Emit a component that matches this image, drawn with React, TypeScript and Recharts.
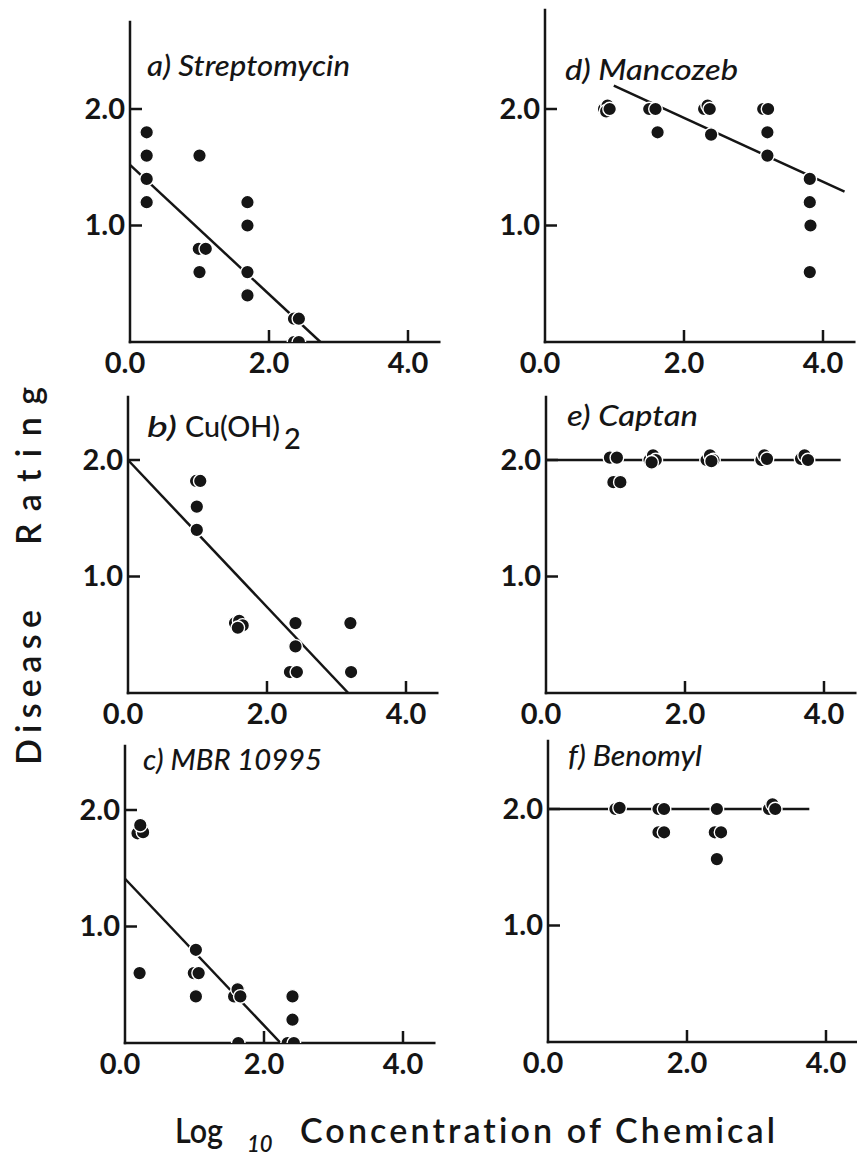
import React from "react";
import { ScatterChart, Scatter, XAxis, YAxis } from "recharts";

// log10 concentration vs disease rating, one array per chemical
const streptomycinPts = [
  [0.24, 1.8], [0.24, 1.6], [0.24, 1.4], [0.24, 1.2],
  [1.0, 1.6], [0.99, 0.8], [1.09, 0.8], [1.0, 0.6],
  [1.69, 1.2], [1.69, 1.0], [1.69, 0.6], [1.69, 0.4],
  [2.36, 0.2], [2.43, 0.2], [2.36, 0.0], [2.43, 0.0],
];
const streptomycinFit = [[0, 1.52], [2.74, 0]];

const cuOH2Pts = [
  [0.98, 1.82], [1.04, 1.82], [0.99, 1.6], [0.99, 1.4],
  [1.54, 0.6], [1.6, 0.62], [1.65, 0.58], [1.58, 0.56],
  [2.41, 0.6], [2.41, 0.4], [2.33, 0.18], [2.43, 0.18],
  [3.2, 0.6], [3.21, 0.18],
];
const cuOH2Fit = [[0, 2.0], [3.17, 0]];

const mbr10995Pts = [
  [0.18, 1.8], [0.26, 1.81], [0.22, 1.87], [0.21, 0.6],
  [1.02, 0.8], [0.99, 0.6], [1.06, 0.6], [1.02, 0.4],
  [1.57, 0.4], [1.62, 0.46], [1.66, 0.4], [1.63, 0.0],
  [2.41, 0.4], [2.41, 0.2], [2.34, 0.0], [2.43, 0.0],
];
const mbr10995Fit = [[0, 1.41], [2.24, 0]];

const mancozebPts = [
  [0.85, 2.0], [0.9, 2.03], [0.88, 1.98], [0.93, 2.0],
  [1.5, 2.0], [1.59, 2.0], [1.62, 1.8],
  [2.29, 2.0], [2.34, 2.03], [2.37, 2.0], [2.39, 1.78],
  [3.14, 2.0], [3.21, 2.0], [3.2, 1.8], [3.2, 1.6],
  [3.81, 1.4], [3.81, 1.2], [3.82, 1.0], [3.81, 0.6],
];
const mancozebFit = [[0.99, 2.2], [4.31, 1.29]];

const captanPts = [
  [0.92, 2.02], [1.02, 2.02], [0.97, 1.81], [1.07, 1.81],
  [1.49, 2.0], [1.54, 2.04], [1.58, 2.0], [1.52, 1.98],
  [2.31, 2.0], [2.36, 2.04], [2.41, 2.0], [2.38, 1.99],
  [3.1, 2.0], [3.14, 2.04], [3.18, 2.01],
  [3.67, 2.01], [3.72, 2.04], [3.77, 2.0],
];
const captanFit = [[0, 2.0], [4.24, 2.0]];

const benomylPts = [
  [0.97, 2.0], [1.03, 2.01],
  [1.59, 2.0], [1.67, 2.0], [1.59, 1.8], [1.67, 1.8],
  [2.43, 2.0], [2.4, 1.8], [2.49, 1.8], [2.43, 1.57],
  [3.18, 2.0], [3.23, 2.04], [3.27, 2.0],
];
const benomylFit = [[0, 2.0], [3.76, 2.0]];

const xTicks = [0, 2, 4];
const yTicks = [1, 2];

const INK = "#151515";
const FONT = 'Lato, "Open Sans", sans-serif';
const X_UNIT = 69.5;
const Y_UNIT = 116.5;
const X_MAX = 4.45;
const PLOT_W = X_MAX * X_UNIT;

const panels = [
  { pts: streptomycinPts, fit: streptomycinFit, left: 130, bottom: 342, top: 22 },
  { pts: cuOH2Pts, fit: cuOH2Fit, left: 128, bottom: 693, top: 397 },
  { pts: mbr10995Pts, fit: mbr10995Fit, left: 125, bottom: 1043, top: 746 },
  { pts: mancozebPts, fit: mancozebFit, left: 545, bottom: 342, top: 10 },
  { pts: captanPts, fit: captanFit, left: 546, bottom: 693, top: 397 },
  { pts: benomylPts, fit: benomylFit, left: 548, bottom: 1042, top: 741 },
];

const toRows = (pairs: number[][]) => pairs.map(([x, y]) => ({ x, y }));

const YTick = (props: any) => {
  const { x, y, payload } = props;
  return (
    <g>
      <line x1={x} x2={x + 12} y1={y} y2={y} stroke={INK} strokeWidth={2.5} />
      <text x={x - 5} y={y} dy={10} textAnchor="end" fill={INK} fontFamily={FONT} fontWeight={700} fontSize={29}>
        {Number(payload.value).toFixed(1)}
      </text>
    </g>
  );
};

const XTick = (props: any) => {
  const { x, y, payload } = props;
  const v = Number(payload.value);
  return (
    <g>
      {v !== 0 && <line x1={x} x2={x} y1={y} y2={y - 12} stroke={INK} strokeWidth={2.5} />}
      <text x={v === 0 ? x - 5 : x} y={y + 31} textAnchor="middle" fill={INK} fontFamily={FONT} fontWeight={700} fontSize={29}>
        {v.toFixed(1)}
      </text>
    </g>
  );
};

const Dot = (props: any) => (
  <circle cx={props.cx} cy={props.cy} r={6.8} fill={INK} stroke="#fff" strokeWidth={1.4} />
);

function Panel({ pts, fit, left, bottom, top }: any) {
  const plotH = bottom - top;
  const yMax = plotH / Y_UNIT;
  const yw = 70;
  const width = yw + PLOT_W + 10;
  const height = 10 + plotH + 50;
  return (
    <div style={{ position: "absolute", left: left - yw, top: top - 10 }}>
      <ScatterChart width={width} height={height} margin={{ top: 10, right: 10, bottom: 0, left: 0 }}>
        <XAxis
          dataKey="x"
          type="number"
          domain={[0, X_MAX]}
          ticks={xTicks}
          allowDataOverflow
          height={50}
          tickSize={0}
          tickMargin={0}
          tickLine={false}
          axisLine={{ stroke: INK, strokeWidth: 2.5, strokeLinecap: "square" }}
          tick={<XTick />}
        />
        <YAxis
          dataKey="y"
          type="number"
          domain={[0, yMax]}
          ticks={yTicks}
          allowDataOverflow
          width={yw}
          tickSize={0}
          tickMargin={0}
          tickLine={false}
          axisLine={{ stroke: INK, strokeWidth: 2.5, strokeLinecap: "square" }}
          tick={<YTick />}
        />
        <Scatter
          data={toRows(fit)}
          line={{ stroke: INK, strokeWidth: 2.5 }}
          shape={() => <g />}
          isAnimationActive={false}
        />
        <Scatter data={toRows(pts)} shape={Dot} isAnimationActive={false} />
      </ScatterChart>
    </div>
  );
}

const noLig = { fontVariantLigatures: "none" as const };
const titleStyle = { fontFamily: FONT, fontSize: 29, fill: INK, fontWeight: 500, fontStyle: "italic" as const, style: noLig };

export default function App() {
  return (
    <div style={{ position: "absolute", left: 0, top: 0, width: 857, height: 1160, overflow: "hidden", background: "#fff" }}>
      {panels.map((p, i) => (
        <Panel key={i} {...p} />
      ))}
      <svg width={857} height={1160} style={{ position: "absolute", left: 0, top: 0, pointerEvents: "none" }}>
        <text x={147} y={76} textLength={203} lengthAdjust="spacingAndGlyphs" {...titleStyle}>a) Streptomycin</text>
        <text x={147} y={437} {...titleStyle}>
          <tspan textLength={30} lengthAdjust="spacingAndGlyphs">b)</tspan>
          <tspan x={185} fontStyle="normal" textLength={95} lengthAdjust="spacingAndGlyphs">Cu(OH)</tspan>
          <tspan x={284} dy={12} fontStyle="normal">2</tspan>
        </text>
        <text x={143} y={770} textLength={179} lengthAdjust="spacingAndGlyphs" {...titleStyle}>c) MBR 10995</text>
        <text x={565} y={80} textLength={173} lengthAdjust="spacingAndGlyphs" {...titleStyle}>d) Mancozeb</text>
        <text x={567} y={426} textLength={131} lengthAdjust="spacingAndGlyphs" {...titleStyle}>e) Captan</text>
        <text x={568} y={766} textLength={134} lengthAdjust="spacingAndGlyphs" {...titleStyle}>f) Benomyl</text>

        <g fontFamily={FONT} fontSize={34} fill={INK} fontWeight={600} style={noLig}>
          <text transform="translate(41,765) rotate(-90)" textLength={155} lengthAdjust="spacing" style={noLig}>Disease</text>
          <text transform="translate(41,545) rotate(-90)" textLength={158} lengthAdjust="spacing" style={noLig}>Rating</text>
          <text x={175} y={1143} textLength={48} lengthAdjust="spacingAndGlyphs">Log</text>
          <text x={247} y={1152} fontSize={22} fontStyle="italic">10</text>
          <text x={300} y={1143} textLength={475} lengthAdjust="spacing" style={noLig}>Concentration of Chemical</text>
        </g>
      </svg>
    </div>
  );
}
